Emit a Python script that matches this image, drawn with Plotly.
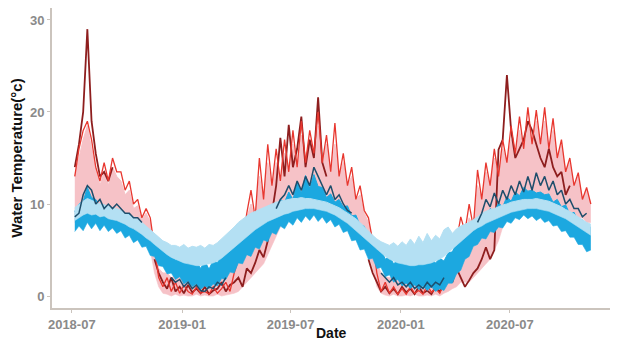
import pandas as pd
import plotly.graph_objects as go

N = None
dates = pd.date_range("2018-07-06", periods=124, freq="7D")

red = [13, 16, 18, 19, 17, 14, 12.5, 14.5, 12.5, 15,
       13.5, 13.5, 11.5, 12.5, 10, 10.5, 8.5, 9.5, 8.5, 5,
       2, 1, 2, 0.5, 1.5, 0.3, 1.2, 0.5, 0.2, 1,
       0.3, 0.5, 0.2, 1, 0.3, 0.8, 1.5, 0.5, 2.5, 4,
       6, 9, 11.5, 8.5, 15, 10.5, 16.5, 12, 16, 12.5,
       17, 13.5, 18, 14, 19, 14.5, 18, 15.5, 20, 14.5,
       17.5, 13.5, 18.8, 13, 15.5, 12, 14, 10.5, 12, 9.3,
       8.5, 6, 2.5, 0.5, 1.5, 0.3, 1, 0.2, 0.8, 0.2,
       1, 0.3, 0.6, 0.2, 1.2, 0.4, 0.8, 0.3, 1.5, 2.5,
       4, 6, 8.6, 7, 10, 7.5, 13.7, 10.5, 14.5, 12,
       16, 13, 17, 14.5, 18.5, 15.5, 19.5, 16, 20.5, 16.5,
       20.2, 16.5, 20.5, 16, 19.3, 15, 17, 13.5, 15, 12,
       13.4, 10.5, 11.8, 10]

dark_red = [14, 16.5, 20, 29, 19, 15.5, 13, 13.5, 12.5, 14,
            N, N, N, N, N, N, N, N, N, 4,
            2.5, 1.5, 0.8, 2, 0.5, 1, 0.3, 1.2, 0.4, 0.8,
            0.3, 1, 0.2, 0.6, 0.8, 1.5, 0.5, 1.2, 1.5, 2,
            1, 3, 2.5, 3.6, 5, 4.2, 6, 9, 12, 17.2,
            13, 18.6, 14, 16, 19.5, 14, 17, 15, 21.6, 14.5,
            13, N, N, N, N, N, N, N, N, N,
            4, 2.5, 1.5, 0.5, 1, 0.3, 0.8, 0.2, 1, 0.4,
            0.8, 0.2, 1, 0.3, 0.6, 0.2, 1, 0.5, 1.2, 2,
            1.5, 3, 2, 1, 1.7, 2.5, 3, 4, 5.3, 4,
            5, 15.9, 17, 24, 18, 15, 16, 17, 19, 18,
            16.5, 15, 14, 16, 14, 13, 13.5, 11, 12, N,
            N, N, N, N]

pink_hi = [13, 15, 17, 18.5, 16, 14, 12, 13.5, 12, 14,
           13, 12.5, 11, 11.5, 9.5, 9.8, 8.3, 9, 8, 5,
           3, 2.5, 2.5, 2, 2.2, 2, 2, 1.8, 1.5, 1.8,
           1.5, 1.5, 1.5, 1.8, 1.8, 2, 2.5, 2.5, 3.5, 5,
           6.5, 8.5, 10, 8.5, 13, 10.5, 14.5, 11.5, 14.5, 12.5,
           15.5, 13.5, 16.5, 14, 17.5, 14.5, 17, 15.5, 18.5, 14.5,
           16.5, 13.5, 16.5, 13, 14.5, 12, 13, 10.5, 11, 9,
           8, 6, 3.5, 2.5, 2, 2, 2, 1.8, 1.5, 1.5,
           1.8, 1.5, 1.5, 1.5, 1.8, 2, 2, 2.5, 3, 3.5,
           4.5, 5.5, 7, 6.5, 8.5, 7.5, 12, 10.5, 13.5, 12,
           15, 13, 16, 14.5, 17, 15.5, 18, 16, 19, 16.5,
           19, 16.5, 19, 16, 18, 15, 16.5, 13.5, 14.5, 12,
           13, 10.5, 11.5, 10]

pink_lo = [8, 8.5, 9, 9.5, 9, 9, 9, 9, 9, 8.5,
           8.5, 8.5, 8, 8, 7.5, 7, 6.5, 6, 5, 2.5,
           1, 0.3, 0.2, 0, 0.2, 0, 0.1, 0, 0, 0.2,
           0, 0.1, 0, 0, 0.2, 0, 0.1, 0.2, 0.3, 0.5,
           1, 1.5, 2, 2.5, 3, 3.5, 4.5, 5.5, 6.5, 7.5,
           8.5, 9, 9.5, 10, 10, 10, 10, 10, 10, 10,
           10, 9.5, 9.5, 9.5, 9, 9, 8.5, 8, 7, 6,
           4.5, 3, 1, 0.3, 0.1, 0, 0.2, 0, 0, 0.1,
           0, 0.2, 0, 0, 0.1, 0, 0.2, 0, 0.3, 0.5,
           0.8, 1, 1.5, 1.5, 1.5, 2, 2.5, 3, 3.5, 4,
           5, 6, 7.5, 8.5, 9, 9.5, 10, 10, 10, 10,
           10, 10, 10, 10, 10, 9.5, 9.5, 9, 9, 9,
           8.5, 8.5, 8, 8]

blue_lo = [7, 7.6, 7.1, 8, 7.3, 7.9, 7.1, 7.7, 7, 7.4,
           6.8, 7.1, 6.3, 6.6, 5.8, 6.1, 5.3, 5.4, 4.4, 4.3,
           3.3, 3.2, 2.4, 2.5, 1.8, 2.1, 1.3, 1.6, 1, 1.3,
           0.7, 1.1, 0.8, 1.3, 1.1, 1.9, 1.8, 2.6, 2.5, 3.6,
           3.5, 4.5, 4.3, 5.3, 5.1, 6.1, 5.9, 6.9, 6.7, 7.6,
           7.3, 8.1, 7.7, 8.5, 8, 8.7, 8.2, 8.8, 8.1, 8.6,
           7.9, 8.3, 7.5, 7.8, 6.9, 7.1, 6, 6.1, 5, 5.1,
           4, 4.1, 3, 3.1, 2.1, 2.3, 1.5, 1.8, 1.1, 1.4,
           0.8, 1.2, 0.7, 1.1, 0.6, 1, 0.5, 0.8, 0.6, 1.4,
           1.4, 2.4, 2.8, 4, 4.3, 5.4, 5.6, 6.3, 6.2, 7,
           6.9, 7.5, 7.4, 8.1, 7.9, 8.5, 8.3, 8.8, 8.4, 8.7,
           8.2, 8.5, 8, 8.2, 7.6, 7.7, 7, 7.1, 6.4, 6.4,
           5.6, 5.6, 4.8, 5]

blue_hi = [9.2, 10, 10.3, 11.8, 10.7, 10.5, 9.7, 9.9, 9.5, 9.6,
           9.2, 9.3, 8.9, 8.9, 8.1, 8.3, 7.5, 7.5, 6.5, 6.5,
           5.5, 5.6, 4.7, 4.9, 3.9, 4.3, 3.6, 3.8, 3.4, 3.7,
           3, 3.8, 2.9, 3.9, 3.6, 4.6, 4.5, 5.5, 5.5, 6.6,
           6.5, 7.5, 7.3, 8.3, 8, 8.9, 8.7, 9.6, 9.5, 10.5,
           10.2, 11.3, 10.5, 12.3, 11.2, 13.1, 11.7, 13.2, 11.9, 11.8,
           10.7, 11.1, 10.2, 10.5, 9.7, 9.8, 8.7, 8.8, 7.7, 7.6,
           6.3, 6.3, 5, 5.1, 4, 4.3, 3.5, 3.9, 3.5, 3.7,
           3.3, 3.8, 3.4, 3.9, 3.5, 4, 3.6, 4.1, 3.8, 4.7,
           4.8, 5.8, 5.9, 7.1, 7, 8.1, 7.9, 8.9, 8.7, 9.5,
           9.2, 10.1, 9.7, 10.8, 10.3, 11.3, 10.9, 11.8, 11.4, 11.5,
           11.2, 11.3, 11, 11.1, 10.2, 10.5, 9.7, 9.9, 8.9, 9.1,
           8.1, 8.3, 7.3, 7.5]

light_lo = [8.2, 8.5, 8.8, 9, 8.8, 8.9, 8.6, 8.7, 8.4, 8.3,
            8.2, 8, 7.8, 7.5, 7.3, 7, 6.7, 6.3, 6, 5.6,
            5.2, 4.8, 4.5, 4.2, 4, 3.8, 3.6, 3.5, 3.4, 3.3,
            3.3, 3.4, 3.5, 3.6, 3.8, 4.1, 4.5, 4.9, 5.3, 5.7,
            6.1, 6.5, 6.9, 7.2, 7.5, 7.8, 8.1, 8.3, 8.5, 8.7,
            8.9, 9, 9.2, 9.3, 9.4, 9.5, 9.5, 9.5, 9.4, 9.3,
            9.2, 9, 8.8, 8.5, 8.2, 7.9, 7.5, 7.1, 6.7, 6.2,
            5.8, 5.4, 5, 4.6, 4.3, 4, 3.8, 3.6, 3.5, 3.4,
            3.3, 3.3, 3.4, 3.4, 3.5, 3.6, 3.8, 4, 4.3, 4.7,
            5.1, 5.5, 6, 6.4, 6.8, 7.1, 7.4, 7.6, 7.9, 8.1,
            8.3, 8.5, 8.7, 8.9, 9.1, 9.2, 9.3, 9.4, 9.5, 9.5,
            9.5, 9.4, 9.3, 9.2, 9, 8.8, 8.6, 8.4, 8.1, 7.8,
            7.5, 7.2, 6.9, 6.6]

light_hi = [9.6, 10, 10.3, 10.6, 10.4, 10.2, 10, 9.9, 9.8, 9.6,
            9.5, 9.3, 9, 8.8, 8.6, 8.3, 8, 7.6, 7.2, 6.8,
            6.4, 6, 5.8, 5.5, 5.5, 5.3, 5.6, 5.2, 5.4, 5.3,
            5.5, 5.2, 5.6, 5.5, 5.8, 6.2, 6.6, 7, 7.5, 8,
            8.4, 8.7, 9, 9.2, 9.4, 9.6, 9.8, 10, 10.2, 10.3,
            10.4, 10.5, 10.6, 10.6, 10.7, 10.6, 10.6, 10.5, 10.4, 10.3,
            10.2, 10, 9.8, 9.6, 9.3, 9, 8.7, 8.4, 8, 7.5,
            7, 6.6, 6.2, 5.9, 5.7, 5.5, 5.8, 5.4, 5.9, 5.5,
            6.2, 5.6, 6.5, 5.8, 6.8, 6, 6.6, 6.2, 7.2, 7.5,
            6.8, 7.3, 7.6, 7.8, 8, 8.3, 8.6, 9, 9.2, 9.4,
            9.5, 9.7, 9.9, 10, 10.2, 10.3, 10.4, 10.5, 10.5, 10.5,
            10.6, 10.5, 10.4, 10.3, 10.1, 9.9, 9.7, 9.4, 9.2, 8.9,
            8.6, 8.3, 8, 7.8]

navy = [8.6, 9, 11, 12, 11.5, 10, 10.5, 9.5, 10, 9.5,
        10, 9.5, 9, 9, 8.5, 8.5, 8, N, N, N,
        N, N, N, 2, 1.5, 1.8, 1, 1.5, 0.8, 1.2,
        0.6, 0.5, 1, 0.8, 1.5, 1.2, 2, N, N, N,
        N, N, N, N, N, N, N, N, 9.5, 10.5,
        11, 12, 11, 12.5, 11.5, 13, 12, 14, 13, 12,
        11, 12, 10.5, 11, 10, 9.3, 9, N, N, N,
        N, N, N, 2.5, 2, 1.5, 2, 1.2, 1.5, 1,
        1.5, 0.8, 1.2, 0.8, 1.5, 1, 1.5, 1.2, 2, N,
        N, N, N, N, N, N, 8, 9, 10.5, 9.7,
        11.2, 10, 11.5, 10.5, 12, 11, 12.5, 11.3, 13, 11.5,
        13.4, 12, 13, 11.5, 12.5, 11, 11.5, 10, 10.5, 9.5,
        9.5, 8.6, 9, N]

C_PINK = "#F6C2C7"
C_DARKRED = "#8E1E1E"
C_RED = "#E8372F"
C_BLUE = "#1CA8E0"
C_LIGHT = "#B4E0F3"
C_NAVY = "#1E4E6C"

fig = go.Figure()


def band(lo, hi, color):
    fig.add_trace(go.Scatter(x=dates, y=lo, mode="lines", line=dict(width=0.6, color=color),
                             showlegend=False, hoverinfo="skip"))
    fig.add_trace(go.Scatter(x=dates, y=hi, mode="lines", line=dict(width=1, color=color),
                             fill="tonexty", fillcolor=color, showlegend=False, hoverinfo="skip"))


band(pink_lo, pink_hi, C_PINK)
fig.add_trace(go.Scatter(x=dates, y=dark_red, mode="lines", line=dict(width=1.8, color=C_DARKRED),
                         showlegend=False, connectgaps=False))
fig.add_trace(go.Scatter(x=dates, y=red, mode="lines", line=dict(width=1.3, color=C_RED),
                         showlegend=False))
band(blue_lo, blue_hi, C_BLUE)
band(light_lo, light_hi, C_LIGHT)
fig.add_trace(go.Scatter(x=dates, y=navy, mode="lines", line=dict(width=1.5, color=C_NAVY),
                         showlegend=False, connectgaps=False))

axis_col = "#cbc4bd"
FONT = "Liberation Sans, Arial, sans-serif"
tick_font = dict(family=FONT, size=13, color="#8a8a8a", weight="bold")

fig.update_layout(
    width=617, height=342,
    margin=dict(l=52, r=7, t=8, b=34),
    paper_bgcolor="white", plot_bgcolor="white",
    showlegend=False,
    annotations=[dict(text="Date", xref="paper", yref="paper", x=0.5, y=-0.083,
                      xanchor="center", yanchor="middle", showarrow=False,
                      font=dict(family=FONT, size=14, color="#111111", weight="bold"))],
)
fig.update_xaxes(
    range=["2018-05-29", "2020-12-15"], automargin=False,
    tickvals=["2018-07-01", "2019-01-01", "2019-07-01", "2020-01-01", "2020-07-01"],
    ticktext=["2018-07", "2019-01", "2019-07", "2020-01", "2020-07"],
    showgrid=False, zeroline=False, showline=True, linecolor=axis_col, linewidth=2,
    ticks="outside", ticklen=3, tickcolor=axis_col, tickfont=tick_font,
)
fig.update_yaxes(
    range=[-1.3, 31.3], automargin=False,
    tickvals=[0, 10, 20, 30],
    showgrid=False, zeroline=False, showline=True, linecolor=axis_col, linewidth=2,
    ticks="outside", ticklen=3, tickcolor=axis_col, tickfont=tick_font,
    title=dict(text="Water Temperature(°c)", font=dict(family=FONT, size=15, color="#111111",
                                                        weight="bold"), standoff=4),
)

fig.write_html("out.html", config={"displayModeBar": False},
               post_script="document.body.style.margin='0px';document.body.style.overflow='hidden';")
